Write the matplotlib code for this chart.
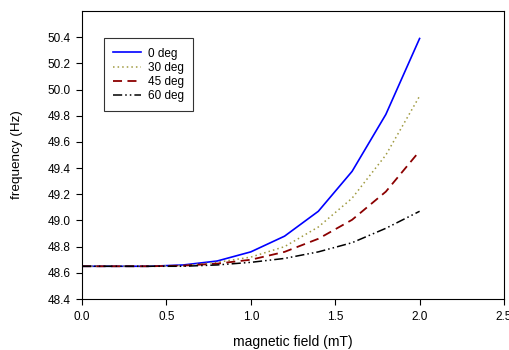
import matplotlib
matplotlib.use("Agg")
import matplotlib.pyplot as plt

field = [0.0, 0.2, 0.4, 0.6, 0.8, 1.0, 1.2, 1.4, 1.6, 1.8, 2.0]
deg0 = [48.65, 48.65, 48.65, 48.66, 48.69, 48.76, 48.88, 49.07, 49.375, 49.81, 50.39]
deg30 = [48.65, 48.65, 48.65, 48.655, 48.68, 48.72, 48.80, 48.95, 49.17, 49.50, 49.95]
deg45 = [48.65, 48.65, 48.65, 48.655, 48.67, 48.70, 48.76, 48.86, 49.005, 49.22, 49.53]
deg60 = [48.65, 48.65, 48.65, 48.65, 48.66, 48.68, 48.71, 48.76, 48.83, 48.94, 49.07]

plt.rcParams['font.family'] = ['Liberation Sans', 'DejaVu Sans']
plt.rcParams['font.size'] = 8.5

fig = plt.figure(figsize=(5.1, 3.5), dpi=100)
ax = fig.add_axes([82/510, 51/350, 422/510, 288/350])

ax.plot(field, deg0, color='blue', lw=1.2, label='0 deg')
ax.plot(field, deg30, color='#a09a40', lw=1.1, ls=(0, (1, 2)), label='30 deg')
ax.plot(field, deg45, color='#8b0000', lw=1.3, ls=(0, (5, 3)), label='45 deg')
ax.plot(field, deg60, color='black', lw=1.1, ls=(0, (6, 2, 1, 2, 1, 2)), label='60 deg')

ax.set_xlim(0, 2.5)
ax.set_ylim(48.4, 50.6)
ax.set_xticks([0.0, 0.5, 1.0, 1.5, 2.0, 2.5])
ax.set_yticks([48.4, 48.6, 48.8, 49.0, 49.2, 49.4, 49.6, 49.8, 50.0, 50.2, 50.4])
ax.xaxis.set_major_formatter(matplotlib.ticker.FormatStrFormatter('%.1f'))
ax.yaxis.set_major_formatter(matplotlib.ticker.FormatStrFormatter('%.1f'))
ax.tick_params(direction='out', length=4.5, width=0.8, pad=4, labelsize=8.5)
ax.tick_params(top=False, right=False)
for s in ax.spines.values():
    s.set_linewidth(0.8)

ax.set_xlabel('magnetic field (mT)', fontsize=10, labelpad=9)
ax.set_ylabel('frequency (Hz)', fontsize=9.7, labelpad=17)

leg = ax.legend(loc='upper left', bbox_to_anchor=(0.052, 0.906), borderaxespad=0,
                frameon=True, fancybox=False, edgecolor='black', fontsize=8.5,
                handlelength=2.3, borderpad=0.8, labelspacing=0.18, handletextpad=0.6)
leg.get_frame().set_linewidth(0.8)

fig.savefig('out.png', dpi=100)
